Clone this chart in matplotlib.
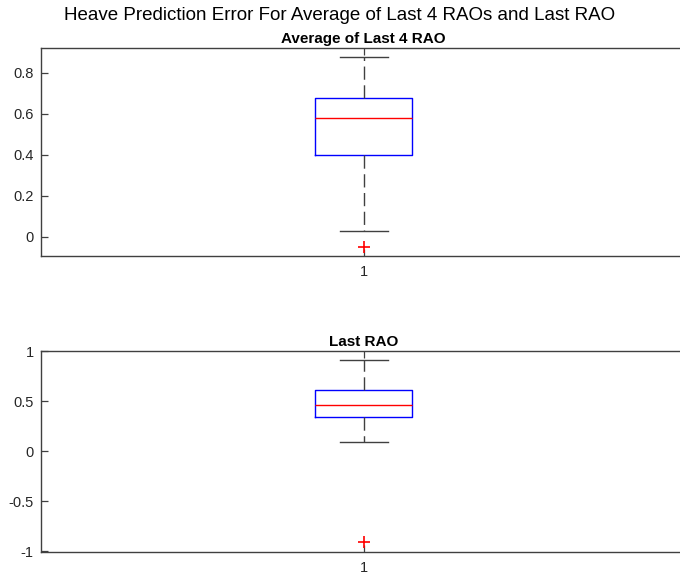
import matplotlib

matplotlib.use("Agg")
import matplotlib.pyplot as plt  # noqa: E402

# Five-number summaries of the heave prediction error, one box per panel
PANELS = ["Average of Last 4 RAO", "Last RAO"]
Q1 = [0.399, 0.344]
MEDIAN = [0.580, 0.464]
Q3 = [0.678, 0.614]
WHISKER_LO = [0.028, 0.097]
WHISKER_HI = [0.875, 0.917]
OUTLIERS = [[-0.049], [-0.91]]
YLIMS = [(-0.096, 0.922), (-1.01, 1.005)]
YTICKS = [[0, 0.2, 0.4, 0.6, 0.8], [-1, -0.5, 0, 0.5, 1]]
YTICKLABELS = [["0", "0.2", "0.4", "0.6", "0.8"], ["-1", "-0.5", "0", "0.5", "1"]]

AXCOL = "#404040"
plt.rcParams["font.family"] = ["Liberation Sans", "DejaVu Sans"]

fig = plt.figure(figsize=(6.8, 5.75), dpi=100)
# right edge runs a little past the figure, so the right spine is cut off
positions = [[0.0600, 0.5543, 0.9500, 0.3628], [0.0600, 0.0396, 0.9500, 0.3500]]

for i, title in enumerate(PANELS):
    ax = fig.add_axes(positions[i])
    stats = [dict(med=MEDIAN[i], q1=Q1[i], q3=Q3[i], whislo=WHISKER_LO[i],
                  whishi=WHISKER_HI[i], fliers=OUTLIERS[i], label="1")]
    ax.bxp(stats, positions=[1], widths=0.15, showfliers=True,
           boxprops=dict(color="blue", linewidth=1.0),
           medianprops=dict(color="red", linewidth=1.0),
           whiskerprops=dict(color=AXCOL, linewidth=1.0, linestyle=(0, (9.5, 4))),
           capprops=dict(color=AXCOL, linewidth=1.0),
           capwidths=0.075,
           flierprops=dict(marker="+", markeredgecolor="red", markersize=8,
                           markeredgewidth=1.2, linestyle="none"))
    ax.set_xlim(0.5, 1.5)
    ax.set_ylim(*YLIMS[i])
    ax.set_yticks(YTICKS[i], labels=YTICKLABELS[i])
    ax.tick_params(direction="in", length=5, width=0.9, colors=AXCOL,
                   labelcolor="#262626", labelsize=10.5, top=True, right=True)
    ax.tick_params(axis="x", pad=6)
    ax.tick_params(axis="y", pad=5)
    for sp in ax.spines.values():
        sp.set_color(AXCOL)
        sp.set_linewidth(1.0)
    ax.set_title(title, fontsize=11, fontweight="bold", pad=3.5)

fig.text(0.5, 0.973, "Heave Prediction Error For Average of Last 4 RAOs and Last RAO",
         ha="center", va="center", fontsize=13.5)

fig.savefig("out.png", dpi=100)
